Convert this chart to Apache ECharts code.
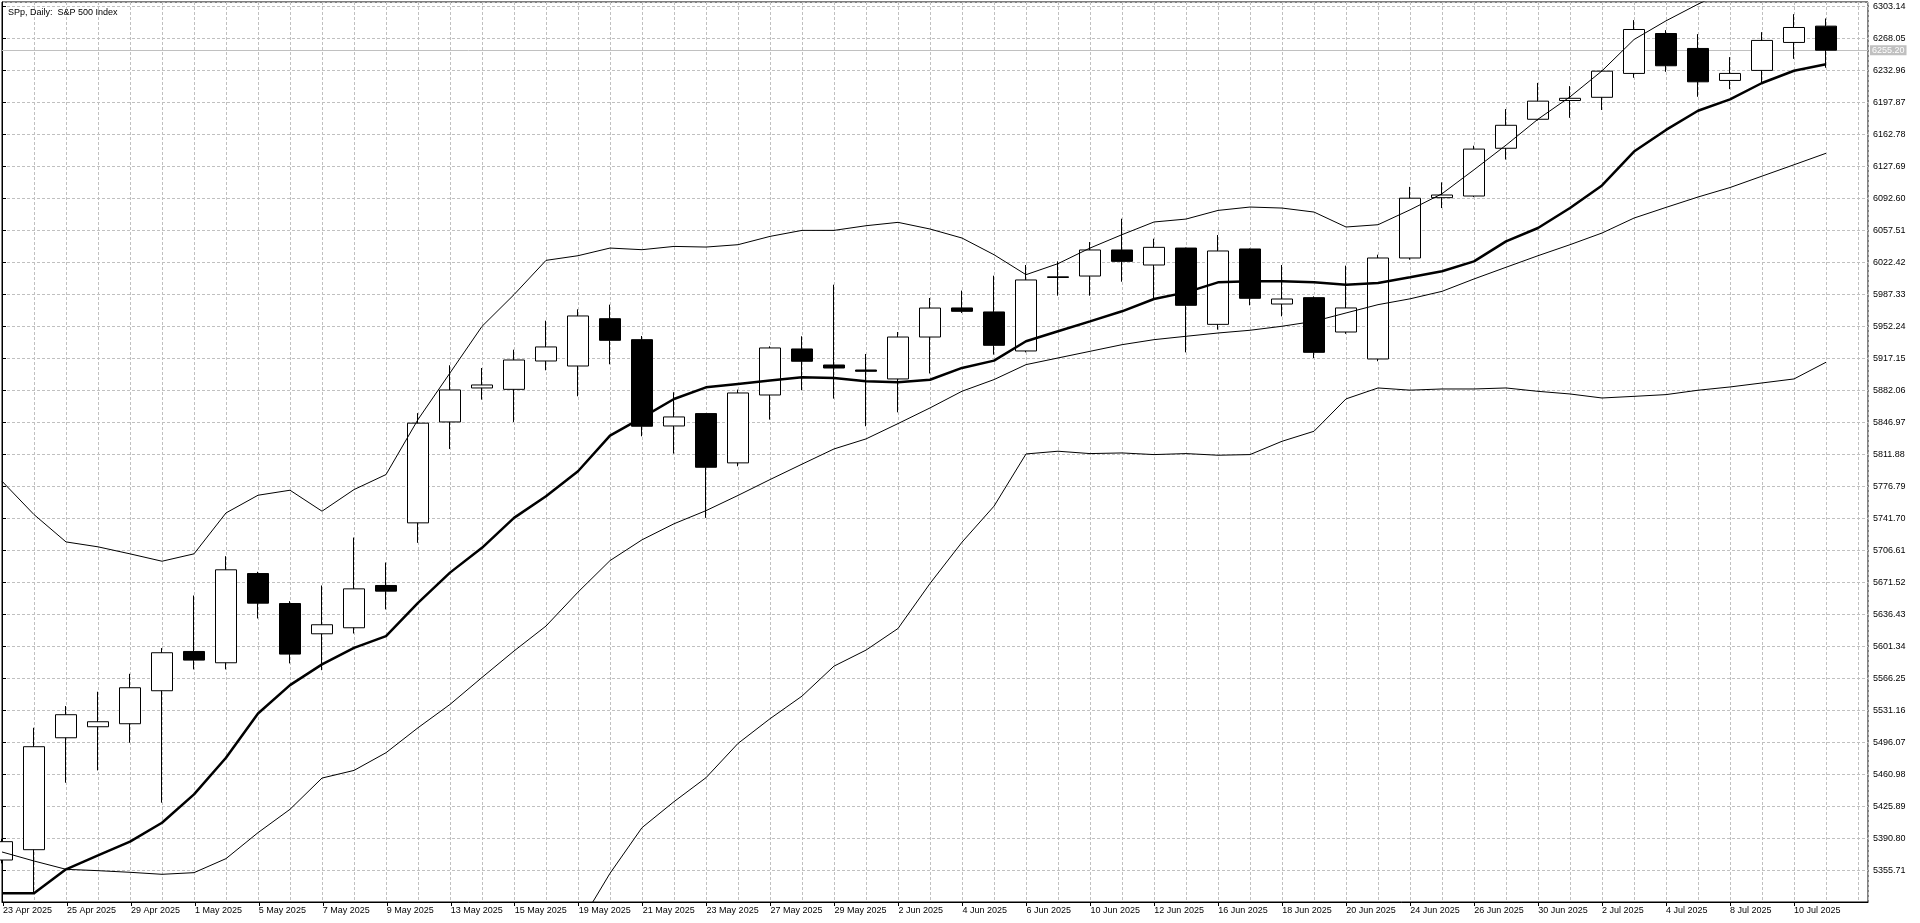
<!DOCTYPE html>
<html>
<head>
<meta charset="utf-8">
<script src="https://cdn.jsdelivr.net/npm/echarts@6/dist/echarts.min.js"></script>
<style>
html,body{margin:0;padding:0;background:#ffffff;}
#c{width:1920px;height:923px;}
</style>
</head>
<body>
<div id="c"></div>
<script>
const titleText = 'SPp, Daily:  S&P 500 Index';

const dates = ['23 Apr 2025','24 Apr 2025','25 Apr 2025','28 Apr 2025','29 Apr 2025','30 Apr 2025',
'1 May 2025','2 May 2025','5 May 2025','6 May 2025','7 May 2025','8 May 2025','9 May 2025','12 May 2025',
'13 May 2025','14 May 2025','15 May 2025','16 May 2025','19 May 2025','20 May 2025','21 May 2025','22 May 2025',
'23 May 2025','26 May 2025','27 May 2025','28 May 2025','29 May 2025','30 May 2025','2 Jun 2025','3 Jun 2025',
'4 Jun 2025','5 Jun 2025','6 Jun 2025','9 Jun 2025','10 Jun 2025','11 Jun 2025','12 Jun 2025','13 Jun 2025',
'16 Jun 2025','17 Jun 2025','18 Jun 2025','19 Jun 2025','20 Jun 2025','23 Jun 2025','24 Jun 2025','25 Jun 2025',
'26 Jun 2025','27 Jun 2025','30 Jun 2025','1 Jul 2025','2 Jul 2025','3 Jul 2025','4 Jul 2025','7 Jul 2025',
'8 Jul 2025','9 Jul 2025','10 Jul 2025','11 Jul 2025'];

const opens = [5366.7,5378.0,5500.8,5512.9,5516.2,5552.4,5595.5,5583.1,5681.0,5648.1,5614.9,5621.5,5667.9,5736.6,
5847.3,5884.6,5883.1,5914.2,5908.7,5960.6,5937.6,5842.9,5856.5,5802.4,5876.9,5927.4,5909.8,5904.3,5894.5,5940.5,
5972.4,5968.0,5925.2,6005.8,6007.4,6036.0,6019.5,6038.1,5954.4,6037.1,5976.7,5983.7,5946.0,5916.4,6027.2,6093.4,
6095.2,6147.6,6179.4,6200.0,6203.5,6229.7,6273.5,6257.1,6222.0,6233.0,6263.7,6281.6];

const closes = [5386.8,5491.0,5526.1,5518.4,5555.7,5594.1,5586.0,5685.1,5648.5,5592.6,5624.8,5664.2,5661.7,5846.0,
5882.4,5887.9,5915.3,5929.6,5963.6,5936.9,5842.6,5852.8,5797.6,5879.1,5928.5,5913.9,5906.5,5902.9,5940.5,5972.3,
5968.7,5931.4,6003.1,6006.6,6036.0,6023.5,6038.9,5975.3,6034.9,5983.0,5982.2,5923.7,5972.4,6027.2,6092.8,6096.3,
6146.7,6172.8,6199.3,6202.4,6232.2,6277.9,6238.1,6220.5,6229.7,6265.9,6280.1,6255.2];

const lows = [5363.0,5330.1,5451.5,5465.0,5495.4,5429.6,5575.8,5575.8,5631.7,5582.4,5575.0,5615.2,5641.6,5714.7,
5817.7,5871.8,5847.3,5904.0,5875.5,5910.6,5831.6,5812.6,5742.1,5798.7,5849.9,5882.1,5872.9,5842.6,5857.9,5900.5,
5966.9,5921.2,5923.7,5985.9,5985.9,6001.2,5983.3,5923.7,5948.6,5975.3,5963.2,5917.5,5944.0,5913.9,6025.3,6082.0,
6094.0,6135.2,6178.0,6181.0,6189.6,6224.9,6231.5,6204.1,6212.5,6219.4,6245.7,6235.9];

const highs = [5390.0,5511.8,5535.6,5551.3,5571.0,5599.2,5656.9,5700.0,5682.9,5650.7,5667.9,5720.5,5693.1,5857.0,
5909.5,5906.5,5926.6,5958.4,5970.9,5976.0,5941.6,5879.9,5857.0,5882.8,5930.3,5941.3,5997.9,5921.9,5946.0,5983.3,
5991.4,6007.8,6019.5,6023.5,6044.7,6070.3,6048.4,6038.6,6052.4,6037.6,6019.5,5985.1,6018.8,6030.8,6105.2,6110.2,
6150.4,6190.6,6219.3,6215.8,6233.0,6288.2,6277.2,6272.8,6247.6,6275.0,6294.7,6290.0];

const maThick = [5330.1,5330.1,5356.5,5371.8,5386.8,5407.6,5438.7,5478.9,5527.5,5558.6,5581.3,5599.5,5612.3,5648.9,
5682.0,5709.2,5742.1,5765.8,5793.2,5832.3,5852.0,5872.5,5885.3,5889.0,5892.7,5896.3,5895.6,5891.9,5890.8,5893.6,
5906.6,5914.6,5935.8,5946.8,5957.7,5968.7,5982.2,5989.5,6000.5,6001.6,6001.6,6000.5,5997.9,5999.8,6006.0,6012.6,
6023.5,6045.5,6060.1,6082.0,6106.8,6144.0,6167.7,6188.7,6201.3,6219.2,6232.6,6239.7];

const bandUpper = [5782.3,5745.7,5715.7,5710.3,5702.6,5694.5,5702.6,5747.5,5766.9,5772.4,5749.4,5773.1,5789.6,5850.0,
5901.1,5952.2,5987.0,6024.6,6029.7,6038.1,6036.3,6039.9,6039.2,6041.8,6050.9,6057.5,6057.5,6062.6,6066.3,6059.0,
6049.1,6030.8,6008.9,6021.0,6038.1,6052.8,6066.7,6069.9,6079.4,6083.1,6082.0,6077.6,6061.2,6063.7,6080.0,6097.7,
6124.0,6151.0,6179.5,6204.0,6232.5,6266.9,6287.4,6305.7,6322.0,6338.0,6352.0,6366.0];

const bandMiddle = [5375.5,5365.6,5356.5,5355.0,5353.2,5351.0,5352.8,5368.2,5396.7,5422.3,5456.6,5465.0,5484.4,5511.8,
5537.4,5567.0,5596.0,5623.4,5660.6,5695.2,5718.0,5735.6,5750.0,5766.7,5784.1,5801.0,5817.7,5828.7,5845.5,5862.7,
5881.0,5893.8,5910.2,5917.5,5924.8,5932.1,5937.6,5941.3,5944.9,5947.9,5952.3,5957.7,5966.9,5976.0,5982.4,5990.6,
6004.2,6017.0,6029.7,6041.8,6054.6,6071.0,6082.7,6094.1,6104.5,6117.0,6129.5,6142.1];

const bandLower = [4969.0,4985.0,4997.0,5000.0,5004.0,5008.0,5003.0,4989.0,5027.0,5072.0,5164.0,5157.0,5179.0,5174.0,
5174.0,5182.0,5205.0,5222.0,5293.6,5352.1,5402.2,5430.7,5457.0,5494.6,5521.7,5546.5,5579.4,5597.0,5620.7,5670.1,
5715.4,5754.9,5812.2,5815.2,5812.6,5813.3,5811.5,5812.6,5810.8,5811.5,5826.1,5837.1,5872.6,5884.6,5882.2,5883.5,
5883.5,5884.6,5880.9,5878.0,5873.6,5875.4,5877.3,5882.1,5885.7,5890.1,5894.5,5912.8];

const yTickFirst = 5320.62;   // tick labels run 5355.71 ... 6303.14
const yTickStep = 35.09;
const yTop = 6308.07;
const xEnd = 58.3125;
const currentPrice = closes[closes.length - 1];

const FONT = 'Liberation Sans';
const candleData = dates.map((d, i) => [i, opens[i], closes[i], lows[i], highs[i]]);
const toXY = arr => arr.map((v, i) => [i, v]);

const chart = echarts.init(document.getElementById('c'), null, {renderer: 'canvas'});

const gridDash = {color: '#c0c0c0', type: [3, 2], width: 1};

chart.setOption({
  animation: false,
  backgroundColor: '#ffffff',
  title: {
    text: titleText, left: 3, top: 3,
    textStyle: {fontFamily: FONT, fontSize: 9, fontWeight: 'normal', color: '#000'}
  },
  grid: [
    {left: 2, top: 2, right: 52, bottom: 21, show: true, borderColor: '#000', borderWidth: 1, backgroundColor: 'transparent'},
    {left: 2, top: 2, width: 1792, bottom: 21, show: false}
  ],
  xAxis: [
    {
      type: 'value', gridIndex: 0, min: 0, max: xEnd, interval: 1,
      axisLine: {show: true, lineStyle: {color: '#000', width: 1}},
      axisTick: {show: false}, axisLabel: {show: false},
      splitLine: {show: true, lineStyle: gridDash}
    },
    {
      type: 'value', gridIndex: 1, min: 0, max: 56, interval: 2,
      axisLine: {show: false},
      axisTick: {show: true, length: 4, lineStyle: {color: '#000', width: 1}},
      axisLabel: {
        show: true, align: 'left', margin: 4,
        fontFamily: FONT, fontSize: 9, color: '#000',
        formatter: v => (Number.isInteger(v) && dates[v]) ? dates[v] : ''
      },
      splitLine: {show: false}
    }
  ],
  yAxis: [
    {
      type: 'value', gridIndex: 0, position: 'right', min: yTickFirst, max: yTop, interval: yTickStep,
      scale: true,
      axisLine: {show: true, lineStyle: {color: '#000', width: 1}},
      axisTick: {show: true, length: 4, lineStyle: {color: '#000'}},
      axisLabel: {
        show: true, margin: 5, showMinLabel: false, showMaxLabel: false,
        fontFamily: FONT, fontSize: 9, color: '#000',
        formatter: v => v.toFixed(2)
      },
      splitLine: {show: true, lineStyle: gridDash}
    },
    {type: 'value', gridIndex: 1, min: yTickFirst, max: yTop, show: false, splitLine: {show: false}}
  ],
  series: [
    {
      type: 'candlestick', xAxisIndex: 0, yAxisIndex: 0,
      data: candleData,
      encode: {x: 0, y: [1, 2, 3, 4]},
      barWidth: 21,
      z: 2,
      itemStyle: {color: '#ffffff', color0: '#000000', borderColor: '#000000', borderColor0: '#000000', borderWidth: 1},
      markLine: {
        silent: true, symbol: ['none', 'none'], z: 1, animation: false,
        lineStyle: {color: '#c0c0c0', type: 'solid', width: 1},
        label: {
          show: true, position: 'end', distance: 2,
          formatter: () => currentPrice.toFixed(2),
          color: '#ffffff', backgroundColor: '#c0c0c0', padding: [1, 2, 0, 2],
          fontFamily: FONT, fontSize: 9
        },
        data: [{yAxis: currentPrice}]
      }
    },
    {type: 'line', data: toXY(bandUpper), symbol: 'none', z: 3, silent: true, lineStyle: {color: '#000', width: 1}},
    {type: 'line', data: toXY(bandMiddle), symbol: 'none', z: 3, silent: true, lineStyle: {color: '#000', width: 1}},
    {type: 'line', data: toXY(bandLower), symbol: 'none', z: 3, silent: true, lineStyle: {color: '#000', width: 1}},
    {type: 'line', data: toXY(maThick), symbol: 'none', z: 4, silent: true, lineStyle: {color: '#000', width: 2.5}}
  ]
});
</script>
</body>
</html>
